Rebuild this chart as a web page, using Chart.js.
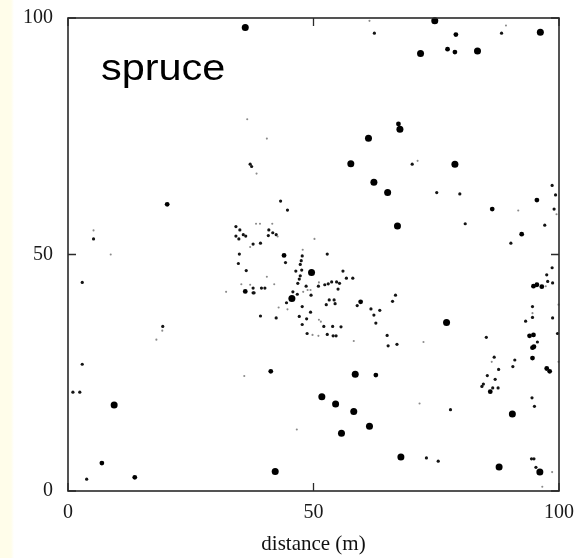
<!DOCTYPE html>
<html>
<head>
<meta charset="utf-8">
<script src="https://cdn.jsdelivr.net/npm/chart.js@4/dist/chart.umd.min.js"></script>
<style>
  html, body { margin: 0; padding: 0; }
  body {
    width: 580px; height: 558px; overflow: hidden;
    background: linear-gradient(to right, #fffdea 0px, #fffdea 11px, #ffffff 14px, #ffffff 100%);
  }
  canvas { display: block; }
</style>
</head>
<body>
<canvas id="c" width="580" height="558"></canvas>
<script>
// ---- data (distance in m) ----
const xTicks = [0, 50, 100];
const yTicks = [0, 50, 100];

// large trees
const bigX = [36.1, 61.2, 57.6, 62.3, 65.1, 67.1, 74.7, 96.2, 71.8, 83.4, 67.6, 78.8, 49.6, 45.6, 77.1, 9.4, 58.5, 51.7, 54.5, 58.2, 61.4, 55.7, 42.2, 67.8, 90.5, 87.8, 96.1];
const bigY = [98.0, 74.6, 69.2, 65.3, 63.1, 56.0, 99.4, 97.0, 92.5, 93.0, 76.5, 69.1, 46.2, 40.7, 35.6, 18.2, 24.7, 19.9, 18.4, 16.8, 13.7, 12.2, 4.1, 7.2, 16.3, 5.1, 4.0];

// medium trees
const medX = [79.0, 77.3, 78.8, 67.3, 20.2, 95.5, 86.4, 92.4, 94.8, 95.5, 96.5, 94.0, 94.8, 94.6, 94.9, 6.9, 13.6, 41.3, 94.6, 97.5, 98.1, 86.0, 62.7, 44.0, 36.1, 59.6];
const medY = [96.5, 93.4, 92.8, 77.6, 60.6, 61.5, 59.6, 54.3, 43.3, 43.6, 43.2, 32.8, 33.0, 30.3, 30.5, 5.9, 2.9, 25.3, 28.1, 25.9, 25.3, 21.0, 24.5, 49.8, 42.2, 40.0];

// small trees
const smallX = [62.4, 88.3, 70.1, 37.1, 37.4, 5.2, 19.3, 43.3, 44.7, 34.2, 35.0, 35.7, 36.2, 34.2, 34.8, 40.9, 41.7, 42.4, 40.8, 37.7, 39.2, 52.8, 34.9, 47.7, 47.5, 47.3, 44.3, 34.7, 47.6, 46.4, 36.3, 56.0, 47.3, 47.1, 56.7, 58.0, 46.8, 52.3, 53.0, 53.7, 54.7, 55.3, 51.0, 37.7, 39.4, 40.1, 48.5, 55.0, 37.7, 37.9, 45.8, 49.5, 46.7, 53.2, 54.2, 54.4, 52.6, 44.5, 58.9, 47.7, 61.7, 63.5, 66.7, 66.1, 49.4, 39.2, 42.4, 47.1, 48.6, 62.3, 47.7, 52.1, 53.9, 55.6, 62.7, 48.7, 52.8, 54.0, 54.6, 65.0, 65.2, 67.0, 75.1, 79.8, 98.6, 99.3, 99.0, 80.9, 97.1, 90.2, 98.6, 97.5, 97.7, 98.7, 94.6, 94.6, 98.7, 93.2, 85.2, 99.7, 95.6, 2.9, 1.0, 2.4, 3.8, 86.8, 91.0, 87.7, 90.6, 85.4, 87.0, 84.6, 84.3, 86.5, 87.6, 94.5, 95.0, 77.9, 73.0, 75.4, 94.4, 94.9, 95.3, 2.9];
const smallY = [96.8, 96.8, 69.1, 69.1, 68.6, 53.3, 34.8, 61.3, 59.4, 55.9, 55.2, 54.2, 53.9, 53.9, 53.3, 55.2, 54.6, 54.2, 54.0, 52.2, 52.4, 50.1, 50.1, 49.7, 48.7, 47.9, 48.3, 48.1, 46.7, 46.5, 46.6, 46.5, 45.5, 44.8, 45.0, 45.0, 43.9, 43.6, 43.8, 44.2, 44.2, 43.9, 43.3, 42.9, 42.9, 42.9, 43.3, 42.7, 41.9, 41.9, 42.1, 41.4, 41.6, 40.4, 40.4, 39.6, 39.4, 39.8, 39.2, 39.0, 38.5, 38.2, 41.4, 40.1, 37.8, 37.0, 36.6, 36.9, 36.4, 37.2, 35.2, 34.8, 34.8, 34.7, 35.5, 33.3, 33.1, 32.8, 32.8, 32.9, 30.7, 31.0, 63.1, 62.8, 64.6, 62.6, 59.6, 56.5, 56.2, 52.4, 47.2, 45.7, 44.3, 44.0, 39.0, 36.7, 36.6, 35.9, 32.5, 33.3, 31.5, 26.8, 20.9, 20.9, 2.5, 28.3, 27.7, 25.7, 26.3, 24.4, 23.6, 22.6, 22.1, 21.8, 21.8, 19.7, 17.9, 17.2, 7.0, 6.3, 6.8, 6.8, 5.0, 44.1];

// very small trees
const tinyX = [61.4, 89.2, 36.5, 40.5, 38.4, 71.2, 5.2, 8.7, 19.2, 18.0, 38.3, 39.1, 41.6, 42.7, 50.2, 37.1, 47.8, 40.5, 51.1, 35.3, 37.1, 42.0, 49.4, 32.2, 48.8, 47.9, 42.9, 44.7, 51.1, 51.5, 49.8, 51.0, 58.2, 99.5, 91.7, 97.3, 94.6, 99.9, 72.4, 35.9, 46.6, 86.3, 99.9, 71.6, 98.6, 96.6];
const tinyY = [99.4, 98.4, 78.6, 74.5, 67.1, 69.8, 55.1, 50.0, 33.9, 32.0, 56.5, 56.5, 56.5, 53.8, 53.3, 51.6, 51.0, 45.3, 44.1, 43.7, 43.6, 43.7, 42.5, 42.1, 42.5, 42.1, 38.8, 38.4, 36.2, 35.8, 33.0, 32.8, 31.7, 58.5, 59.3, 43.3, 37.6, 39.4, 31.5, 24.3, 13.0, 27.3, 27.3, 18.5, 4.0, 0.9];

const labelText = 'spruce';
const xTitle = 'distance (m)';

// ---- build ----
const pts = (xs, ys) => xs.map((x, i) => ({ x: x, y: ys[i] }));

const framePlugin = {
  id: 'frame',
  afterDatasetsDraw(chart) {
    const { ctx, chartArea: a, scales } = chart;
    ctx.save();
    ctx.strokeStyle = '#2a2a2a';
    ctx.lineWidth = 1.6;
    ctx.strokeRect(a.left, a.top, a.right - a.left, a.bottom - a.top);
    // inward tick marks
    const len = 8;
    ctx.lineWidth = 1.3;
    ctx.beginPath();
    xTicks.forEach(v => {
      const px = scales.x.getPixelForValue(v);
      ctx.moveTo(px, a.bottom); ctx.lineTo(px, a.bottom - len);
      ctx.moveTo(px, a.top); ctx.lineTo(px, a.top + len);
    });
    yTicks.forEach(v => {
      const py = scales.y.getPixelForValue(v);
      ctx.moveTo(a.left, py); ctx.lineTo(a.left + len, py);
      ctx.moveTo(a.right, py); ctx.lineTo(a.right - len, py);
    });
    ctx.stroke();
    // panel label
    ctx.fillStyle = '#000';
    ctx.font = '37px "Liberation Sans", Arial, sans-serif';
    ctx.textBaseline = 'alphabetic';
    ctx.textAlign = 'left';
    ctx.translate(a.left + 33, a.top + 62);
    ctx.scale(1.12, 1);
    ctx.fillText(labelText, 0, 0);
    ctx.restore();
  }
};

const tickFont = { family: '"Liberation Serif", "Times New Roman", serif', size: 20 };
const noPad = s => { s.paddingTop = 0; s.paddingBottom = 0; s.paddingLeft = 0; s.paddingRight = 0; };

new Chart(document.getElementById('c'), {
  type: 'scatter',
  data: {
    datasets: [
      { label: 'tiny', data: pts(tinyX, tinyY), pointRadius: 1.05, backgroundColor: '#8a8a8a', borderWidth: 0, clip: false },
      { label: 'small', data: pts(smallX, smallY), pointRadius: 1.6, backgroundColor: '#141414', borderWidth: 0, clip: false },
      { label: 'medium', data: pts(medX, medY), pointRadius: 2.4, backgroundColor: '#000', borderWidth: 0, clip: false },
      { label: 'large', data: pts(bigX, bigY), pointRadius: 3.5, backgroundColor: '#000', borderWidth: 0, clip: false }
    ]
  },
  options: {
    responsive: false,
    animation: false,
    events: [],
    layout: { padding: { top: 18, right: 21, left: 0, bottom: 0 } },
    plugins: { legend: { display: false }, tooltip: { enabled: false } },
    scales: {
      x: {
        type: 'linear', min: 0, max: 100,
        afterBuildTicks: s => { s.ticks = xTicks.map(v => ({ value: v })); },
        afterFit: s => { s.height = 67; noPad(s); },
        grid: { display: false, drawTicks: false },
        border: { display: false },
        ticks: { font: tickFont, color: '#1a1a1a', padding: 10, maxRotation: 0, autoSkip: false },
        title: { display: true, text: xTitle, color: '#111', font: { family: '"Liberation Serif", "Times New Roman", serif', size: 21 }, padding: { top: 2, bottom: 1 } }
      },
      y: {
        type: 'linear', min: 0, max: 100,
        afterBuildTicks: s => { s.ticks = yTicks.map(v => ({ value: v })); },
        afterFit: s => { s.width = 68; noPad(s); },
        grid: { display: false, drawTicks: false },
        border: { display: false },
        ticks: { font: tickFont, color: '#1a1a1a', padding: 15, autoSkip: false }
      }
    }
  },
  plugins: [framePlugin]
});
</script>
</body>
</html>
